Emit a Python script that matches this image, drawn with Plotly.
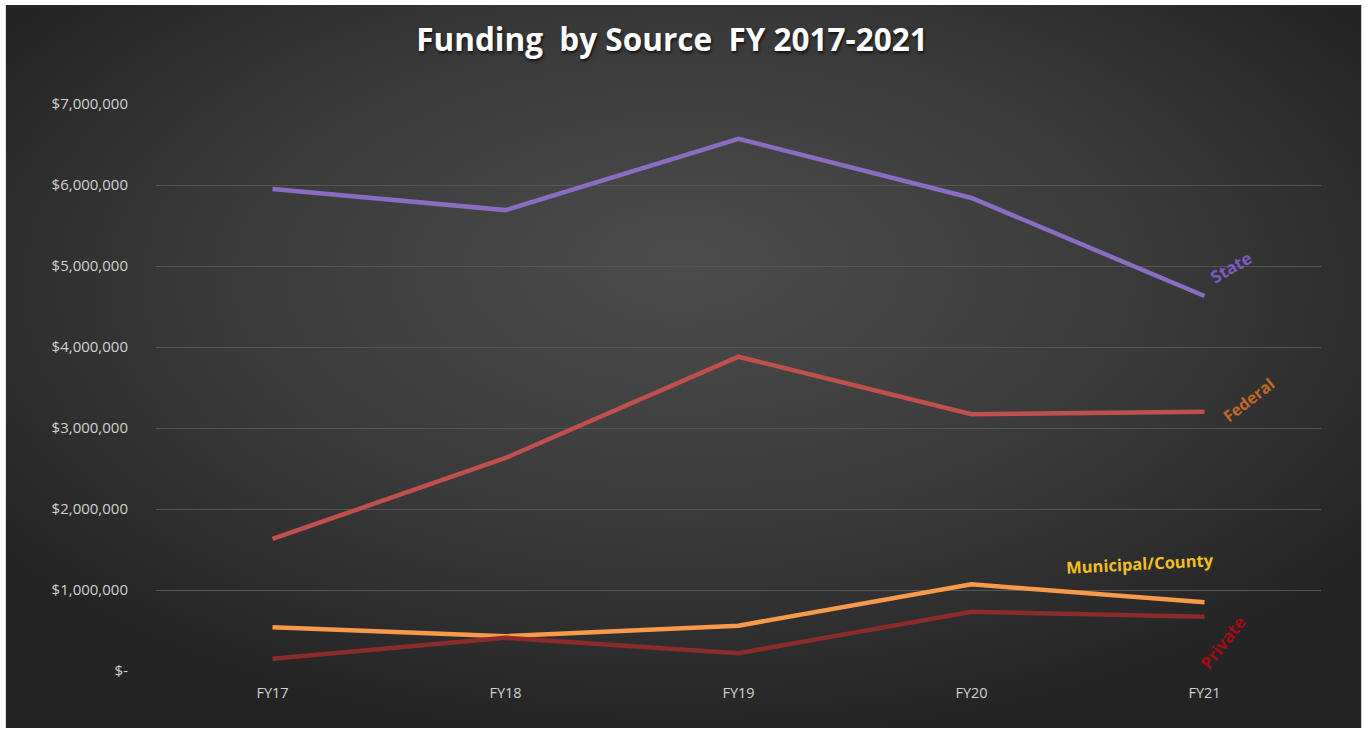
import base64
import plotly.graph_objects as go

years = ["FY17", "FY18", "FY19", "FY20", "FY21"]
state = [5950000, 5690000, 6570000, 5840000, 4630000]
federal = [1630000, 2630000, 3880000, 3170000, 3200000]
municipal = [540000, 430000, 560000, 1070000, 850000]
private = [150000, 410000, 220000, 730000, 670000]

ytick_vals = [0, 1000000, 2000000, 3000000, 4000000, 5000000, 6000000, 7000000]
ytick_text = ["$-", "$1,000,000", "$2,000,000", "$3,000,000", "$4,000,000",
              "$5,000,000", "$6,000,000", "$7,000,000"]

W, H = 1366, 732
L, R, T, B = 155.5, 44.5, 104, 61
pw, ph = W - L - R, H - T - B

svg = """<svg xmlns='http://www.w3.org/2000/svg' width='1357' height='723' viewBox='0 0 1357 723'>
<defs><radialGradient id='g' cx='0.5' cy='0.4' r='0.62' fx='0.5' fy='0.35'>
<stop offset='0' stop-color='#4c4c4c'/><stop offset='0.55' stop-color='#3a3a3a'/><stop offset='1' stop-color='#242424'/>
</radialGradient></defs><rect width='1357' height='723' fill='url(#g)'/></svg>"""
src = "data:image/svg+xml;base64," + base64.b64encode(svg.encode()).decode()

fig = go.Figure()
series = [
    ("State", state, "#8a6cc0"),
    ("Federal", federal, "#c0504d"),
    ("Municipal/County", municipal, "#f79a4a"),
    ("Private", private, "#8b2b2b"),
]
for name, vals, col in series:
    fig.add_trace(go.Scatter(x=years, y=vals, mode="lines", name=name,
                             line=dict(color=col, width=4.5)))

anns = [
    ("State", 4, 4980000, 26, 0, -30, "#7d5bc0", 17),
    ("Federal", 4, 3320000, 44, 2, -38, "#c0682a", 16),
    ("Municipal/County", 4, 1330000, -65, 0, -3, "#f0c020", 16.5),
    ("Private", 4, 380000, 18, -2, -52, "#a00c18", 17),
]
for text, xi, yv, xs, ys, ang, col, sz in anns:
    fig.add_annotation(x=years[xi], y=yv, text="<b>%s</b>" % text, showarrow=False,
                       xshift=xs, yshift=ys, textangle=ang,
                       font=dict(color=col, size=sz, family="Open Sans"))

fig.add_layout_image(dict(source=src, xref="paper", yref="paper",
                          x=(5 - L) / pw, y=(H - B - 5) / ph,
                          sizex=1357 / pw, sizey=723 / ph,
                          xanchor="left", yanchor="top", sizing="stretch",
                          layer="below"))

fig.update_layout(
    width=W, height=H,
    margin=dict(l=L, r=R, t=T, b=B, pad=0),
    paper_bgcolor="white",
    plot_bgcolor="rgba(0,0,0,0)",
    showlegend=False,
    title=dict(text="<b>Funding\u00a0 by Source\u00a0 FY 2017-2021</b>",
               x=672 / W, xanchor="center", y=1 - 40 / H, yanchor="middle",
               font=dict(color="white", size=31.5, family="Open Sans",
                         shadow="1px 2px 3px #111111")),
    xaxis=dict(range=[-0.5, 4.5], showgrid=False, zeroline=False, showline=False,
               ticks="", tickfont=dict(color="#d0d0d0", size=14.5, family="Open Sans"),
               ticklabelstandoff=11),
    yaxis=dict(range=[0, 7000000], tickvals=ytick_vals, ticktext=ytick_text,
               showgrid=True, gridcolor="#555555", gridwidth=1, zeroline=False,
               showline=False, ticks="",
               tickfont=dict(color="#d0d0d0", size=15, family="Open Sans"),
               ticklabelstandoff=27),
)

fig.write_html("out.html", config={"displayModeBar": False},
               post_script="document.body.style.margin='0';document.body.style.overflow='hidden';")
